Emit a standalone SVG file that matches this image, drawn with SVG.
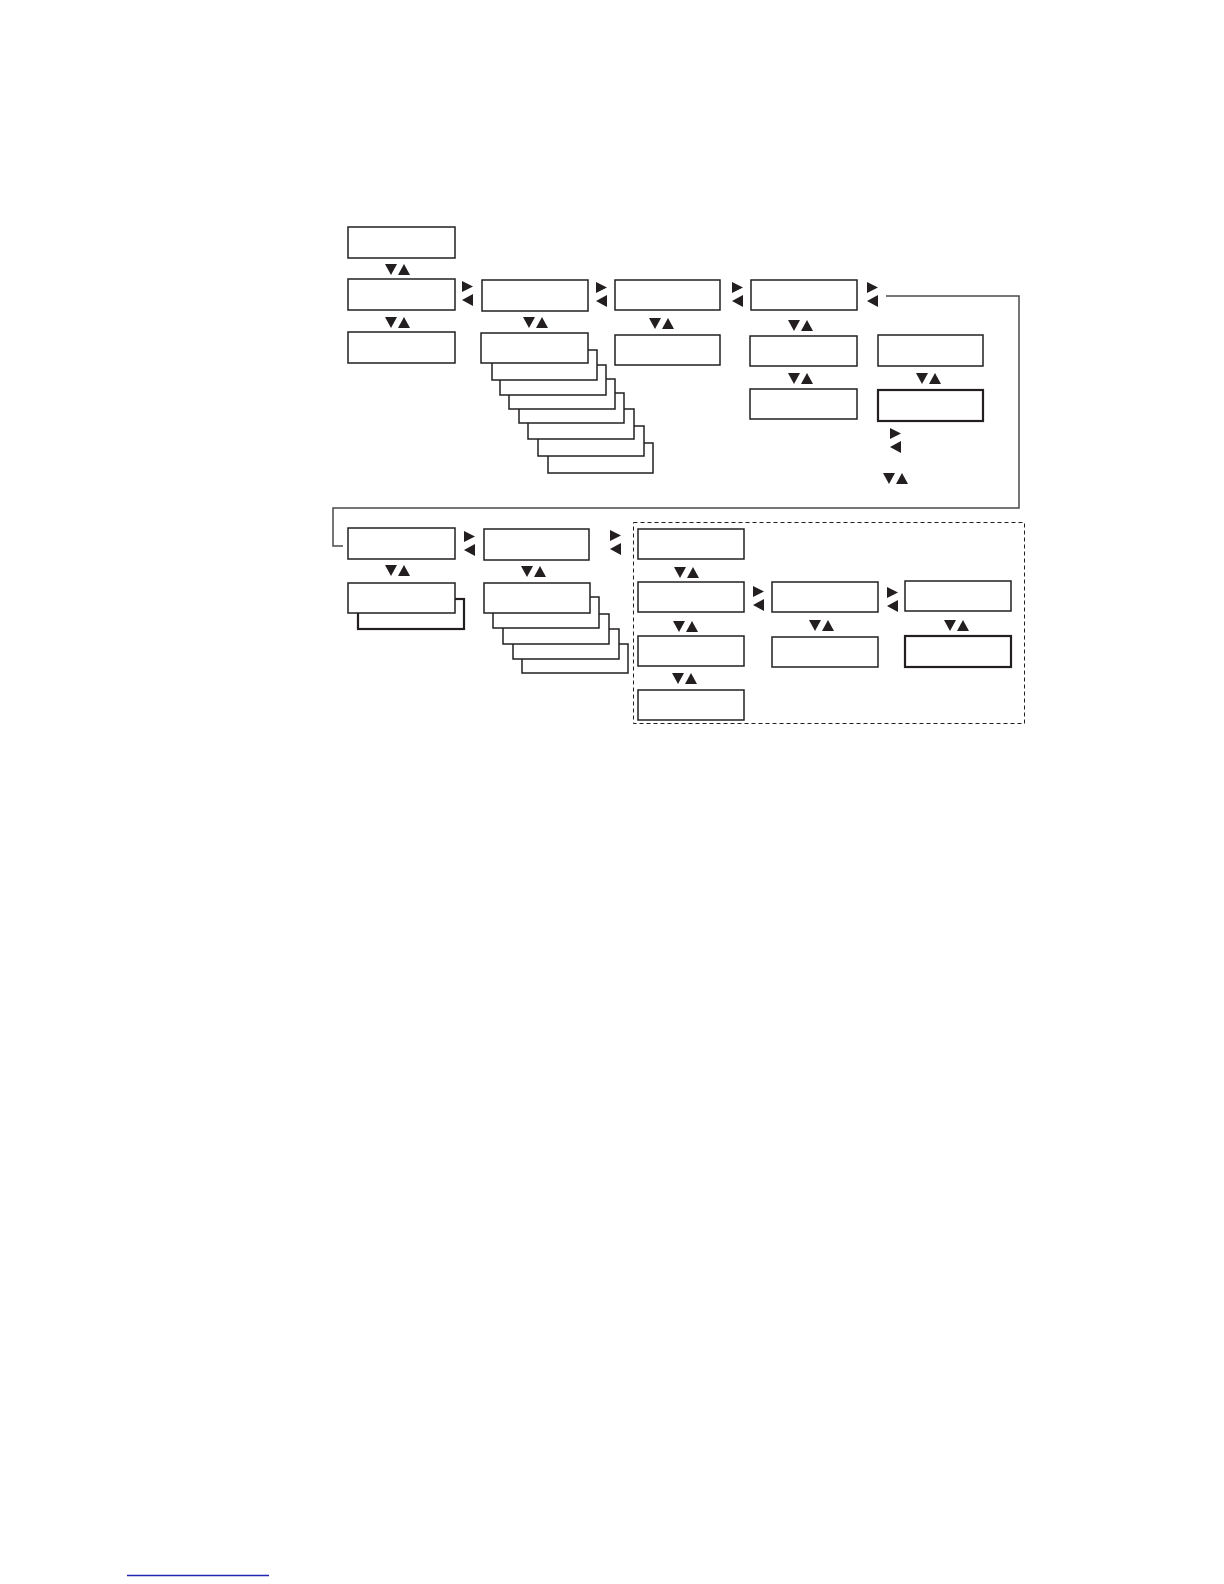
<svg xmlns="http://www.w3.org/2000/svg" xmlns:xlink="http://www.w3.org/1999/xlink" width="1224" height="1584" viewBox="0 0 1224 1584">
<style>
.b{fill:#fff;stroke:#231f20;stroke-width:1.5}
.bt{fill:#fff;stroke:#231f20;stroke-width:2.2}
.tri{fill:#231f20}
.con{fill:none;stroke:#4a4a4a;stroke-width:1.5}
.dash{fill:none;stroke:#231f20;stroke-width:1;stroke-dasharray:4 3}
</style>
<defs>
<g id="ud" class="tri"><polygon points="0,0 12,0 6,11"/><polygon points="13,11 25,11 19,0"/></g>
<g id="rl" class="tri"><polygon points="0,0 11,5.5 0,11"/><polygon points="11,13 0,19 11,25"/></g>
</defs>
<rect width="1224" height="1584" fill="#fff"/>
<g id="connectors">
<path class="con" d="M886,296 H1019 V508 H333 V546 H343"/>
<rect class="dash" x="633.5" y="522.5" width="391" height="201"/>
<use href="#ud" x="385" y="264"/>
<use href="#ud" x="385" y="317"/>
<use href="#ud" x="523" y="317"/>
<use href="#ud" x="649" y="318"/>
<use href="#ud" x="788" y="320"/>
<use href="#ud" x="788" y="373"/>
<use href="#ud" x="916" y="373"/>
<use href="#ud" x="883" y="473"/>
<use href="#ud" x="385" y="565"/>
<use href="#ud" x="521" y="566"/>
<use href="#ud" x="674" y="567"/>
<use href="#ud" x="673" y="621"/>
<use href="#ud" x="672" y="673"/>
<use href="#ud" x="809" y="620"/>
<use href="#ud" x="944" y="620"/>
<use href="#rl" x="462" y="281"/>
<use href="#rl" x="596" y="282"/>
<use href="#rl" x="732" y="282"/>
<use href="#rl" x="867" y="282"/>
<use href="#rl" x="890" y="428"/>
<use href="#rl" x="464" y="531"/>
<use href="#rl" x="610" y="530"/>
<use href="#rl" x="753" y="586"/>
<use href="#rl" x="887" y="587"/>
</g>
<g id="A1"><rect class="b" x="348" y="227" width="107" height="31"/></g>
<g id="A2"><rect class="b" x="348" y="279" width="107" height="31"/></g>
<g id="A3"><rect class="b" x="348" y="332" width="107" height="31"/></g>
<g id="B1"><rect class="b" x="482" y="280" width="106" height="31"/></g>
<g id="B2stack">
<rect class="b" x="548" y="443" width="105" height="30"/>
<rect class="b" x="538" y="426" width="106" height="30"/>
<rect class="b" x="528" y="409" width="106" height="30"/>
<rect class="b" x="519" y="393" width="105" height="30"/>
<rect class="b" x="509" y="379" width="106" height="30"/>
<rect class="b" x="500" y="365" width="106" height="30"/>
<rect class="b" x="492" y="350" width="105" height="30"/>
<rect class="b" x="481" y="333" width="107" height="30"/>
</g>
<g id="C1"><rect class="b" x="615" y="280" width="105" height="30"/></g>
<g id="C2"><rect class="b" x="615" y="335" width="105" height="30"/></g>
<g id="D1"><rect class="b" x="751" y="280" width="106" height="30"/></g>
<g id="D2"><rect class="b" x="750" y="336" width="107" height="30"/></g>
<g id="D3"><rect class="b" x="750" y="389" width="107" height="30"/></g>
<g id="E1"><rect class="b" x="878" y="335" width="105" height="31"/></g>
<g id="E2"><rect class="bt" x="878" y="390" width="105" height="31"/></g>
<g id="F1"><rect class="b" x="348" y="528" width="107" height="31"/></g>
<g id="F2stack">
<rect class="bt" x="358" y="599" width="106" height="30"/>
<rect class="b" x="348" y="583" width="107" height="30"/>
</g>
<g id="G1"><rect class="b" x="484" y="529" width="105" height="31"/></g>
<g id="G2stack">
<rect class="b" x="522" y="644" width="106" height="29"/>
<rect class="b" x="513" y="629" width="106" height="30"/>
<rect class="b" x="503" y="614" width="106" height="30"/>
<rect class="b" x="493" y="597" width="106" height="31"/>
<rect class="b" x="484" y="583" width="106" height="30"/>
</g>
<g id="H1"><rect class="b" x="638" y="529" width="106" height="30"/></g>
<g id="H2"><rect class="b" x="638" y="582" width="106" height="30"/></g>
<g id="H3"><rect class="b" x="638" y="636" width="106" height="30"/></g>
<g id="H4"><rect class="b" x="638" y="690" width="106" height="30"/></g>
<g id="I1"><rect class="b" x="772" y="582" width="106" height="30"/></g>
<g id="I2"><rect class="b" x="772" y="637" width="106" height="30"/></g>
<g id="J1"><rect class="b" x="905" y="581" width="106" height="30"/></g>
<g id="J2"><rect class="bt" x="905" y="636" width="106" height="31"/></g>
<line x1="127" y1="1575.5" x2="269" y2="1575.5" stroke="#2424b4" stroke-width="1.3"/>
</svg>
